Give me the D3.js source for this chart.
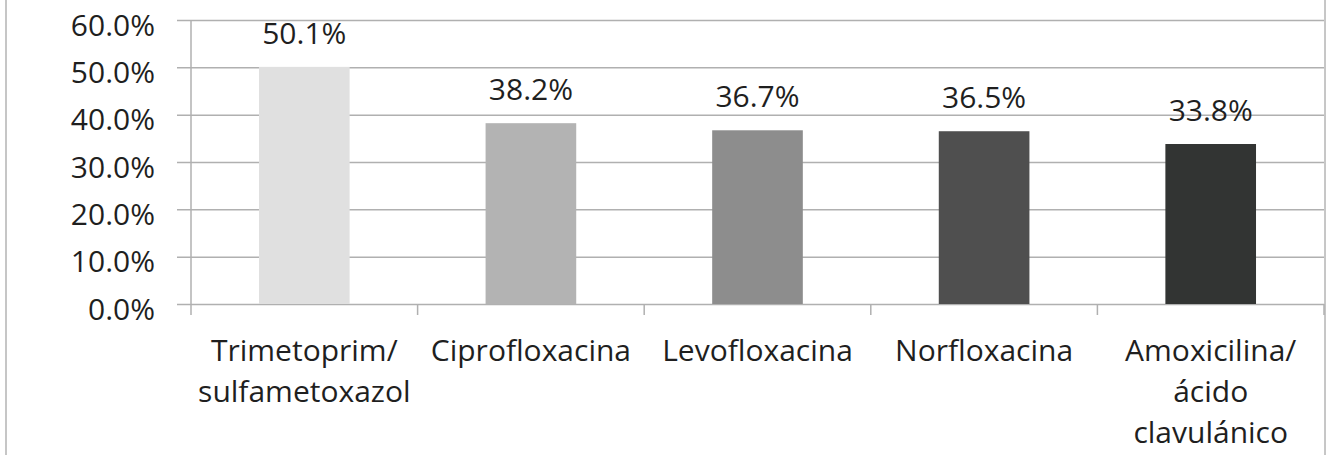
<!DOCTYPE html>
<html>
<head>
<meta charset="utf-8">
<script src="https://cdn.jsdelivr.net/npm/d3@7"></script>
<style>
  html, body { margin: 0; padding: 0; background: #fff; }
  svg { display: block; }
  text { font-family: "Open Sans", "Noto Sans", sans-serif; fill: #1f1f1f; }
</style>
</head>
<body>
<svg id="chart" width="1326" height="455"></svg>
<script>
// Antibiotic resistance rates
const categories = [
  ["Trimetoprim/", "sulfametoxazol"],
  ["Ciprofloxacina"],
  ["Levofloxacina"],
  ["Norfloxacina"],
  ["Amoxicilina/", "ácido", "clavulánico"]
];
const values = [0.501, 0.382, 0.367, 0.365, 0.338];
const barColors = ["#e0e0e0", "#b3b3b3", "#8d8d8d", "#4f4f4f", "#323433"];
const yTicks = [0, 0.1, 0.2, 0.3, 0.4, 0.5, 0.6];

const svg = d3.select("#chart");
const W = 1326, H = 455;
const plot = { left: 191, right: 1324, top: 20, bottom: 304 };
const gridColor = "#b0b0b0";
const fontSize = 30;

// outer chart frame
svg.append("rect")
  .attr("x", 6).attr("y", -10)
  .attr("width", 1319).attr("height", H + 20)
  .attr("fill", "none")
  .attr("stroke", "#b4b4b4")
  .attr("stroke-width", 1.5);

const keys = categories.map(c => c.join(" "));

const x = d3.scaleBand()
  .domain(keys)
  .range([plot.left, plot.right])
  .paddingInner(0.6)
  .paddingOuter(0.3);

const y = d3.scaleLinear()
  .domain([0, 0.6])
  .range([plot.bottom, plot.top]);

const fmt = d3.format(".1%");

// horizontal gridlines and y-axis labels
const yAxis = d3.axisLeft(y)
  .tickValues(yTicks)
  .tickSize(-(plot.right - plot.left))
  .tickSizeOuter(0)
  .tickFormat(fmt);

const gy = svg.append("g")
  .attr("transform", `translate(${plot.left},0)`)
  .call(yAxis);
gy.select(".domain").remove();
gy.selectAll(".tick line")
  .attr("x1", -14)
  .attr("stroke", gridColor)
  .attr("stroke-width", 1.5);
gy.selectAll(".tick text")
  .attr("font-size", fontSize)
  .attr("dy", "0.5em")
  .attr("x", -36)
  .style("fill", "#1f1f1f");

// vertical axis line
svg.append("line")
  .attr("x1", plot.left).attr("x2", plot.left)
  .attr("y1", y(0.6)).attr("y2", y(0))
  .attr("stroke", gridColor).attr("stroke-width", 1.5);

// category boundary ticks on the x-axis
const step = x.step();
const boundaries = d3.range(keys.length + 1).map(i => plot.left + i * step);
svg.append("g").selectAll("line")
  .data(boundaries)
  .join("line")
  .attr("x1", d => d).attr("x2", d => d)
  .attr("y1", y(0)).attr("y2", y(0) + 11)
  .attr("stroke", gridColor).attr("stroke-width", 1.5);

// bars
svg.append("g").selectAll("rect")
  .data(values)
  .join("rect")
  .attr("x", (d, i) => x(keys[i]))
  .attr("y", d => y(d))
  .attr("width", x.bandwidth())
  .attr("height", d => y(0) - y(d))
  .attr("fill", (d, i) => barColors[i]);

// value labels
svg.append("g").selectAll("text")
  .data(values)
  .join("text")
  .attr("x", (d, i) => x(keys[i]) + x.bandwidth() / 2)
  .attr("y", d => y(d) - 23)
  .attr("text-anchor", "middle")
  .attr("font-size", fontSize)
  .text(d => fmt(d));

// category labels
const lab = svg.append("g").selectAll("text")
  .data(categories)
  .join("text")
  .attr("text-anchor", "middle")
  .attr("font-size", fontSize)
  .attr("transform", (d, i) => `translate(${x(keys[i]) + x.bandwidth() / 2},361)`);
lab.selectAll("tspan")
  .data(d => d)
  .join("tspan")
  .attr("x", 0)
  .attr("y", (d, j) => j * 41)
  .text(d => d);
</script>
</body>
</html>
